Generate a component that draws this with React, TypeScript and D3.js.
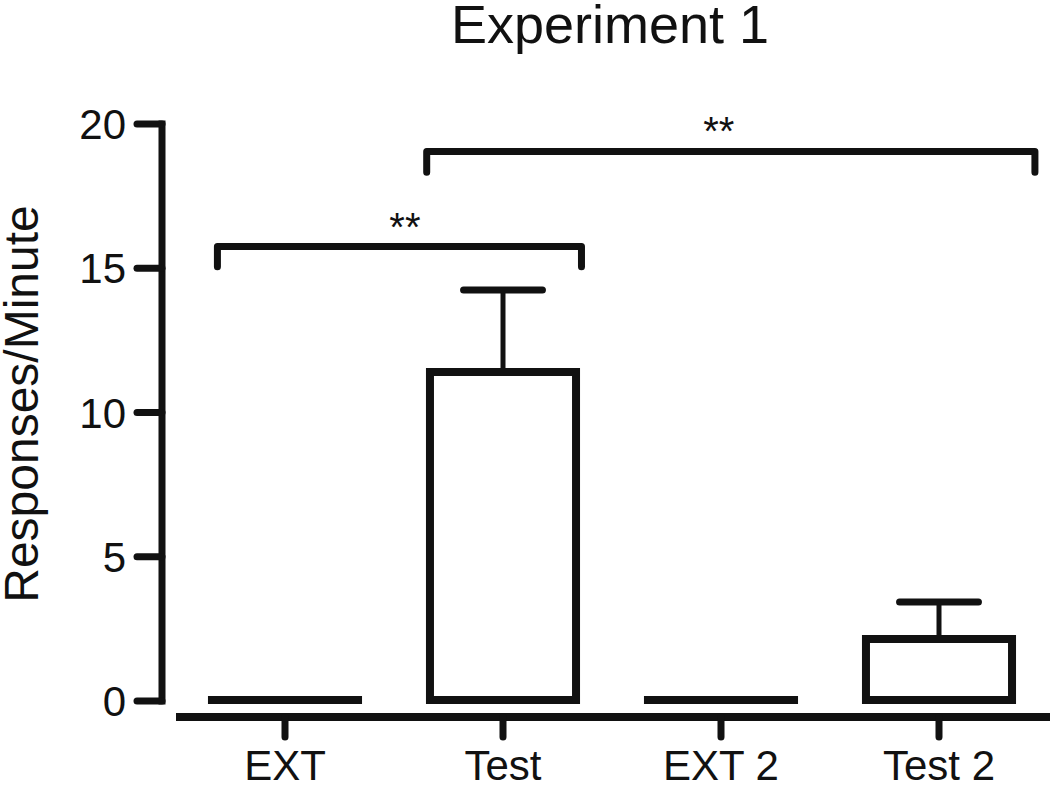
import React from "react";
import * as d3 from "d3";

const categories = ["EXT", "Test", "EXT 2", "Test 2"];
const means = [0, 11.4, 0, 2.15];
const errors = [0, 2.85, 0, 1.28];
const yTicks = [0, 5, 10, 15, 20];
const bracketFrom = [-0.31, 0.65];
const bracketTo = [1.36, 3.44];
const bracketY = [15.75, 19.05];
const bracketDrop = [0.7, 0.72];
const bracketLabel = ["**", "**"];
const bracketLabelAt = [0.55, 1.99];

const W = 1050;
const H = 785;
const FONT = "'Liberation Sans', Arial, Helvetica, sans-serif";

export default function App() {
  const x = d3
    .scaleBand<string>()
    .domain(categories)
    .range([176, 1048])
    .paddingInner(0.33)
    .paddingOuter(0.165);
  const y = d3.scaleLinear().domain([0, 20]).range([701, 124]);
  const bw = x.bandwidth();
  const center = (c: string) => (x(c) as number) + bw / 2;
  const idx = d3
    .scaleLinear()
    .domain([0, categories.length - 1])
    .range([center(categories[0]), center(categories[categories.length - 1])]);

  const axisX = 162;
  const xAxisY = 717;

  return (
    <svg
      width={W}
      height={H}
      style={{ position: "absolute", left: 0, top: 0, background: "#fff" }}
      fontFamily={FONT}
    >
      <rect x={0} y={0} width={W} height={H} fill="#fff" />
      {/* title */}
      <text x={610} y={43} fontSize={54} textAnchor="middle" fill="#111">
        Experiment 1
      </text>

      {/* y axis */}
      <line
        x1={axisX}
        x2={axisX}
        y1={y(20) - 3.5}
        y2={y(0) + 3.5}
        stroke="#111"
        strokeWidth={7}
      />
      {yTicks.map((t) => (
        <g key={t}>
          <line
            x1={137}
            x2={axisX}
            y1={y(t)}
            y2={y(t)}
            stroke="#111"
            strokeWidth={7}
            strokeLinecap="round"
          />
          <text
            x={126}
            y={y(t)}
            dy="0.36em"
            fontSize={42}
            textAnchor="end"
            fill="#111"
          >
            {t}
          </text>
        </g>
      ))}
      <text
        transform={`translate(38, ${404}) rotate(-90)`}
        fontSize={48}
        textAnchor="middle"
        fill="#111"
      >
        Responses/Minute
      </text>

      {/* x axis */}
      <line
        x1={176}
        x2={W}
        y1={xAxisY}
        y2={xAxisY}
        stroke="#111"
        strokeWidth={8}
      />
      {categories.map((c) => (
        <g key={c}>
          <line
            x1={center(c)}
            x2={center(c)}
            y1={xAxisY}
            y2={737}
            stroke="#111"
            strokeWidth={7}
            strokeLinecap="round"
          />
          <text
            x={center(c)}
            y={780}
            fontSize={42}
            textAnchor="middle"
            fill="#111"
          >
            {c}
          </text>
        </g>
      ))}

      {/* error bars */}
      {categories.map((c, i) =>
        errors[i] > 0 ? (
          <g key={"e" + c}>
            <line
              x1={center(c)}
              x2={center(c)}
              y1={y(means[i])}
              y2={y(means[i] + errors[i])}
              stroke="#111"
              strokeWidth={5}
            />
            <line
              x1={center(c) - bw * 0.27}
              x2={center(c) + bw * 0.27}
              y1={y(means[i] + errors[i])}
              y2={y(means[i] + errors[i])}
              stroke="#111"
              strokeWidth={7}
              strokeLinecap="round"
            />
          </g>
        ) : null
      )}

      {/* bars */}
      {categories.map((c, i) => {
        const x0 = x(c) as number;
        const x1 = x0 + bw;
        const y0 = y(0) - 1;
        const y1 = Math.min(y(means[i]), y0 - 0.01);
        const p = d3.path();
        p.moveTo(x0, y0);
        p.lineTo(x0, y1);
        p.lineTo(x1, y1);
        p.lineTo(x1, y0);
        p.closePath();
        return (
          <path
            key={"b" + c}
            d={p.toString()}
            fill="#fff"
            stroke="#111"
            strokeWidth={8}
            strokeLinejoin="miter"
          />
        );
      })}

      {/* significance brackets */}
      {bracketY.map((by, i) => {
        const xa = idx(bracketFrom[i]);
        const xb = idx(bracketTo[i]);
        const yTop = y(by);
        const yDrop = y(by - bracketDrop[i]);
        return (
          <g key={"br" + i}>
            <path
              d={`M${xa},${yDrop}V${yTop}H${xb}V${yDrop}`}
              fill="none"
              stroke="#111"
              strokeWidth={7}
              strokeLinecap="round"
              strokeLinejoin="round"
            />
            <text
              x={idx(bracketLabelAt[i])}
              y={yTop - 6}
              fontSize={40}
              textAnchor="middle"
              fill="#111"
            >
              {bracketLabel[i]}
            </text>
          </g>
        );
      })}
    </svg>
  );
}
